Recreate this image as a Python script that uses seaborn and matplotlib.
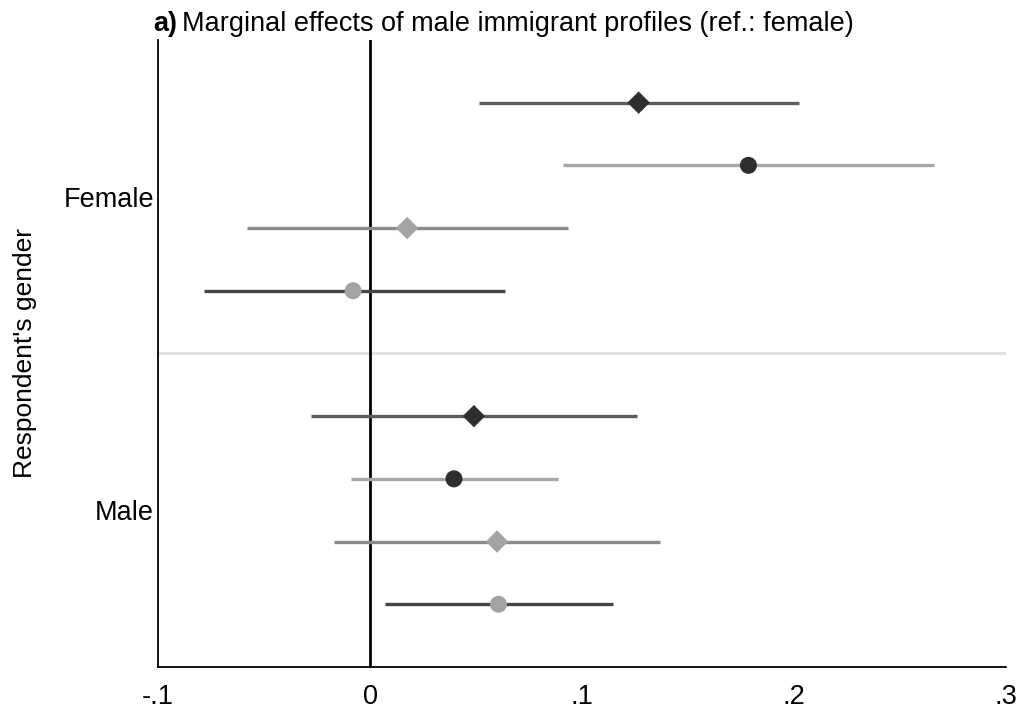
"""Coefficient plot: marginal effects of male immigrant profiles by respondent gender."""

import matplotlib

matplotlib.use("Agg")
import matplotlib.pyplot as plt
import pandas as pd
import seaborn as sns

# rows top to bottom; first four = female respondents, last four = male respondents
ESTIMATES = [0.1267, 0.1785, 0.0175, -0.0080, 0.0490, 0.0396, 0.0599, 0.0606]
LOWER = [0.0514, 0.0912, -0.0580, -0.0783, -0.0278, -0.0091, -0.0172, 0.0069]
UPPER = [0.2024, 0.2659, 0.0934, 0.0635, 0.1261, 0.0885, 0.1370, 0.1144]
MARKER_TYPE = ["diamond", "circle", "diamond", "circle"] * 2
MARKER_SHADE = ["dark", "dark", "light", "light"] * 2
LINE_SHADE = ["mid_dark", "light", "mid", "dark"] * 2
GROUPS = ["Female", "Male"]
X_TICKS = [-0.1, 0, 0.1, 0.2, 0.3]
X_TICK_LABELS = ["-.1", "0", ".1", ".2", ".3"]

MARKER_COLORS = {"dark": "#2e2e2e", "light": "#a3a3a3"}
LINE_COLORS = {"mid_dark": "#5c5c5c", "light": "#a8a8a8", "mid": "#8a8a8a", "dark": "#474747"}
MARKERS = {"diamond": "D", "circle": "o"}
SIZES = {"diamond": 130, "circle": 150}
FS = 19.5


def build_frame() -> pd.DataFrame:
    df = pd.DataFrame(
        {
            "estimate": ESTIMATES,
            "lower": LOWER,
            "upper": UPPER,
            "marker": MARKER_TYPE,
            "shade": MARKER_SHADE,
            "line": LINE_SHADE,
        }
    )
    # leave an empty slot between the two respondent groups
    df["pos"] = [0, 1, 2, 3, 5, 6, 7, 8]
    return df


def main() -> None:
    df = build_frame()
    sns.set_theme(style="white")
    plt.rcParams["font.family"] = ["Liberation Sans", "DejaVu Sans"]
    plt.rcParams["text.color"] = "black"
    plt.rcParams["axes.labelcolor"] = "black"
    plt.rcParams["xtick.color"] = "black"
    plt.rcParams["ytick.color"] = "black"

    fig = plt.figure(figsize=(10.21, 7.17), dpi=100)
    ax = fig.add_axes([0.1548, 0.0698, 0.8305, 0.8745])

    ax.axhline(4, color="#e0e0e0", linewidth=2, zorder=0)
    ax.axvline(0, color="black", linewidth=2, zorder=1)
    ax.hlines(
        df["pos"],
        df["lower"],
        df["upper"],
        colors=df["line"].map(LINE_COLORS),
        linewidth=2.4,
        zorder=2,
    )
    for shape, sub in df.groupby("marker"):
        sns.scatterplot(
            data=sub,
            x="estimate",
            y="pos",
            hue="shade",
            palette=MARKER_COLORS,
            marker=MARKERS[shape],
            s=SIZES[shape],
            linewidth=0,
            legend=False,
            zorder=3,
            ax=ax,
        )

    ax.set_xlim(-0.1, 0.3)
    ax.set_ylim(9, -1)
    ax.set_xticks(X_TICKS)
    ax.set_xticklabels(X_TICK_LABELS)
    ax.set_yticks([1.5, 6.5])
    ax.set_yticklabels(GROUPS)
    ax.set_xlabel("")
    ax.set_ylabel("Respondent's gender", fontsize=19, labelpad=19)
    ax.tick_params(axis="x", length=7, width=1.2, labelsize=FS, pad=5)
    ax.tick_params(axis="y", length=0, labelsize=FS, pad=3)

    for side in ["top", "right"]:
        ax.spines[side].set_visible(False)
    for side in ["left", "bottom"]:
        ax.spines[side].set_color("black")
        ax.spines[side].set_linewidth(1.3)

    # title: bold panel letter followed by regular text
    t1 = fig.text(153 / 1021, 1 - 24 / 717, "a)", fontsize=FS, fontweight="bold", va="center", ha="left")
    fig.canvas.draw()
    bb = t1.get_window_extent()
    x_next = (bb.x1 + 5) / fig.bbox.width
    fig.text(x_next, 1 - 24 / 717, "Marginal effects of male immigrant profiles (ref.: female)",
             fontsize=FS, va="center", ha="left")

    fig.savefig("out.png", dpi=100)
    plt.close(fig)


if __name__ == "__main__":
    main()
